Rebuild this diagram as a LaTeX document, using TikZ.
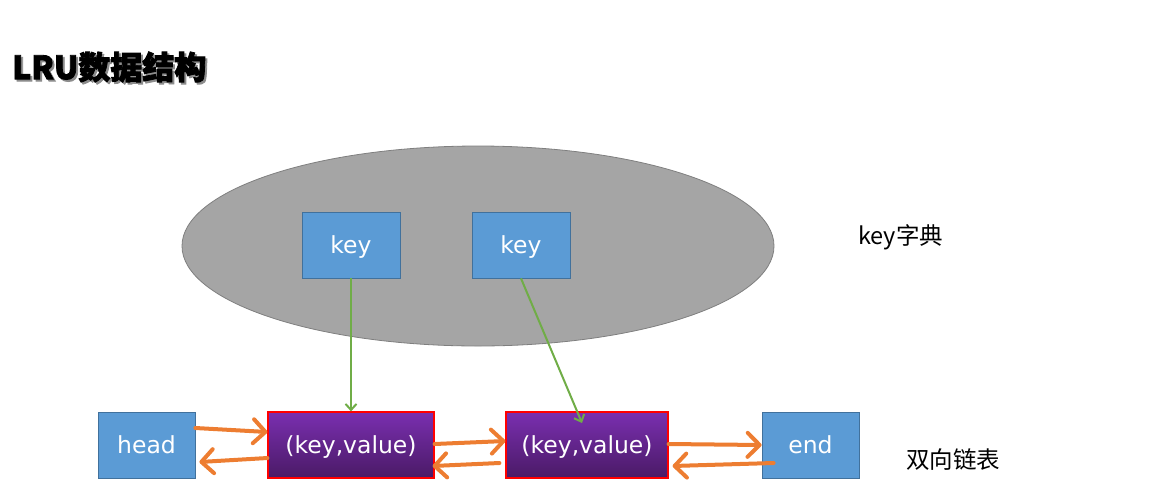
\documentclass[tikz,border=0pt]{standalone}
\usepackage{fontspec}
\usetikzlibrary{arrows.meta,shapes.geometric}
\newfontfamily\cjk{Noto Sans CJK SC}
\newfontfamily\titlefont{Noto Sans CJK SC}[BoldFeatures={FakeBold=2.5}]
\newfontfamily\boxfont{DejaVu Sans}
\definecolor{keyblue}{HTML}{5B9BD5}
\definecolor{keyedge}{HTML}{41719C}
\definecolor{dictgray}{HTML}{A5A5A5}
\definecolor{dictedge}{HTML}{7F7F7F}
\definecolor{linkorange}{HTML}{ED7D31}
\definecolor{refgreen}{HTML}{70AD47}
\definecolor{kvtop}{HTML}{7A2FB0}
\definecolor{kvbot}{HTML}{4A1A66}
\tikzset{
  boxtext/.style={text=white, font=\boxfont\fontsize{23.5}{27}\selectfont, text height=17pt, text depth=0pt},
  bluebox/.style={draw=keyedge, fill=keyblue, line width=0.8pt, minimum width=98pt, minimum height=66pt,
    inner sep=0pt, boxtext},
  kvbox/.style={draw=red, line width=1.2pt, top color=kvtop, bottom color=kvbot, minimum height=66pt,
    inner sep=0pt, boxtext},
  link/.style={draw=linkorange, line width=4pt, line cap=round,
    -{Straight Barb[length=12pt,width=24pt,line width=4pt,round]}},
  ref/.style={draw=refgreen, line width=2pt, -{Straight Barb[length=6pt,width=11pt,line width=2pt]}},
  label/.style={font=\cjk\fontsize{23.5}{27}\selectfont, text=black, inner sep=0pt}
}
\begin{document}
\begin{tikzpicture}[x=1pt,y=-1pt]
\useasboundingbox (0,0) rectangle (1164,480);
% title with a soft drop shadow
\node[anchor=west, inner sep=0pt, text=black!45, font=\titlefont\bfseries\fontsize{32}{36}\selectfont] (titleshadow) at (14,69) {LRU数据结构};
\node[anchor=west, inner sep=0pt, text=black, font=\titlefont\bfseries\fontsize{32}{36}\selectfont] (title) at (12,67) {LRU数据结构};
% key dictionary
\node[ellipse, draw=dictedge, fill=dictgray, line width=0.8pt, minimum width=592pt, minimum height=200pt, inner sep=0pt] (dict) at (478,246) {};
\node[bluebox] (key1) at (351,245) {key};
\node[bluebox] (key2) at (521,245) {key};
\node[label, anchor=west] (dictlabel) at (858,237) {key字典};
% doubly linked list
\node[bluebox, minimum width=97pt] (head) at (146.5,445) {head};
\node[kvbox, minimum width=166pt] (kv1) at (351,445) {(key,value)};
\node[kvbox, minimum width=162pt] (kv2) at (587,445) {(key,value)};
\node[bluebox, minimum width=97pt] (end) at (810.5,445) {end};
\node[label, anchor=west] (listlabel) at (906,460) {双向链表};
% dictionary references into the list
\coordinate (kv2in) at (582,423);
\draw[ref] (key1.south) -- (kv1.north);
\draw[ref] (key2.south) -- (kv2in);
% forward and backward links (yshift is in page units: positive is up)
\draw[link] ([yshift=17pt]head.east) -- ([yshift=13pt]kv1.west);
\draw[link] ([yshift=-13pt]kv1.west) -- ([xshift=4pt,yshift=-17pt]head.east);
\draw[link] ([yshift=1pt]kv1.east) -- ([yshift=4pt]kv2.west);
\draw[link] ([xshift=-6pt,yshift=-18pt]kv2.west) -- ([xshift=-2pt,yshift=-21pt]kv1.east);
\draw[link] ([yshift=1pt]kv2.east) -- ([yshift=0pt]end.west);
\draw[link] ([xshift=12pt,yshift=-18pt]end.west) -- ([xshift=4pt,yshift=-21pt]kv2.east);
\end{tikzpicture}
\end{document}
